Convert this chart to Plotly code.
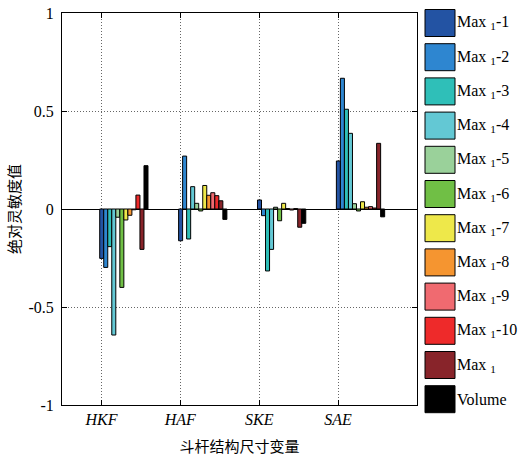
import plotly.graph_objects as go

categories = ["HKF", "HAF", "SKE", "SAE"]
series_names = ["Max <sub>1</sub>-1", "Max <sub>1</sub>-2", "Max <sub>1</sub>-3", "Max <sub>1</sub>-4",
                "Max <sub>1</sub>-5", "Max <sub>1</sub>-6", "Max <sub>1</sub>-7", "Max <sub>1</sub>-8",
                "Max <sub>1</sub>-9", "Max <sub>1</sub>-10", "Max <sub>1</sub>", "Volume"]
colors = ["#2353a3", "#2e86d0", "#2fbfb8", "#63c8d4", "#9ad19a", "#70bf45",
          "#eee84a", "#f59530", "#f06a70", "#ee2a2a", "#88242a", "#000000"]

# values per series: [HKF, HAF, SKE, SAE]
max1_1 = [-0.252, -0.162, 0.046, 0.245]
max1_2 = [-0.298, 0.270, -0.034, 0.667]
max1_3 = [-0.192, -0.153, -0.316, 0.509]
max1_4 = [-0.643, 0.114, -0.206, 0.386]
max1_5 = [-0.042, 0.029, 0.009, 0.027]
max1_6 = [-0.400, -0.010, -0.060, -0.010]
max1_7 = [-0.056, 0.120, 0.029, 0.037]
max1_8 = [-0.032, 0.070, 0.002, 0.009]
max1_9 = [-0.004, 0.083, -0.005, 0.012]
max1_10 = [0.071, 0.068, 0.002, 0.005]
max1 = [-0.206, 0.042, -0.093, 0.335]
volume = [0.221, -0.053, -0.073, -0.040]

values = [max1_1, max1_2, max1_3, max1_4, max1_5, max1_6,
          max1_7, max1_8, max1_9, max1_10, max1, volume]

yticks = [-1, -0.5, 0, 0.5, 1]
yticklabels = ["-1", "-0.5", "0", "0.5", "1"]

W, H = 529, 458
L, R, T, B = 62, 112, 13, 53
pw, ph = W - L - R, H - T - B

xpos = list(range(1, len(categories) + 1))
bw = 0.051
start = -0.022

fig = go.Figure()
for k, (name, col, vals) in enumerate(zip(series_names, colors, values)):
    fig.add_trace(go.Bar(
        x=xpos, y=vals, name=name, width=bw, offset=start + k * bw,
        marker=dict(color=col, line=dict(color="#000000", width=1)),
        showlegend=False,
    ))

serif = "Liberation Serif, Times New Roman, serif"
cjk = "Noto Sans CJK SC, sans-serif"
grid = dict(showgrid=True, gridcolor="#666", griddash="1px,2px", gridwidth=1)

fig.update_layout(
    width=W, height=H,
    margin=dict(l=L, r=R, t=T, b=B),
    plot_bgcolor="white", paper_bgcolor="white",
    barmode="overlay",
    font=dict(family=serif, size=16, color="#000"),
    xaxis=dict(
        range=[0.5, 5.0], tickvals=xpos,
        ticktext=["<i>%s</i>" % c for c in categories],
        ticks="inside", ticklen=5, tickcolor="#000", mirror="ticks",
        showline=True, linecolor="#000", linewidth=1,
        zeroline=False, automargin=False,
        tickfont=dict(family=serif, size=16),
        title=dict(text="斗杆结构尺寸变量", font=dict(family=cjk, size=15), standoff=14),
        **grid,
    ),
    yaxis=dict(
        range=[-1, 1], tickvals=yticks, ticktext=yticklabels,
        ticks="inside", ticklen=5, tickcolor="#000", mirror="ticks",
        showline=True, linecolor="#000", linewidth=1,
        zeroline=True, zerolinecolor="#000", zerolinewidth=1,
        automargin=False, ticklabelstandoff=4,
        tickfont=dict(family=serif, size=16),
        title=dict(text="绝对灵敏度值", font=dict(family=cjk, size=15), standoff=4),
        **grid,
    ),
)

# custom legend with large swatches
box_x0, box_x1 = 425, 455
box_top0, box_h, step = 9.5, 27, 34.2
shapes = []
annotations = []
for k, (name, col) in enumerate(zip(series_names, colors)):
    top = box_top0 + k * step
    bot = top + box_h
    shapes.append(dict(
        type="rect", xref="paper", yref="paper",
        x0=(box_x0 - L) / pw, x1=(box_x1 - L) / pw,
        y0=1 - (bot - T) / ph, y1=1 - (top - T) / ph,
        fillcolor=col, line=dict(color="#000", width=1),
    ))
    annotations.append(dict(
        xref="paper", yref="paper", x=(box_x1 + 1 - L) / pw, y=1 - ((top + bot) / 2 - T) / ph,
        text=name, showarrow=False, xanchor="left", yanchor="middle", borderpad=0,
        font=dict(family=serif, size=16, color="#000"),
    ))
fig.update_layout(shapes=shapes, annotations=annotations)

fig.write_html("out.html", config={"displayModeBar": False},
               post_script="document.body.style.margin='0';")
